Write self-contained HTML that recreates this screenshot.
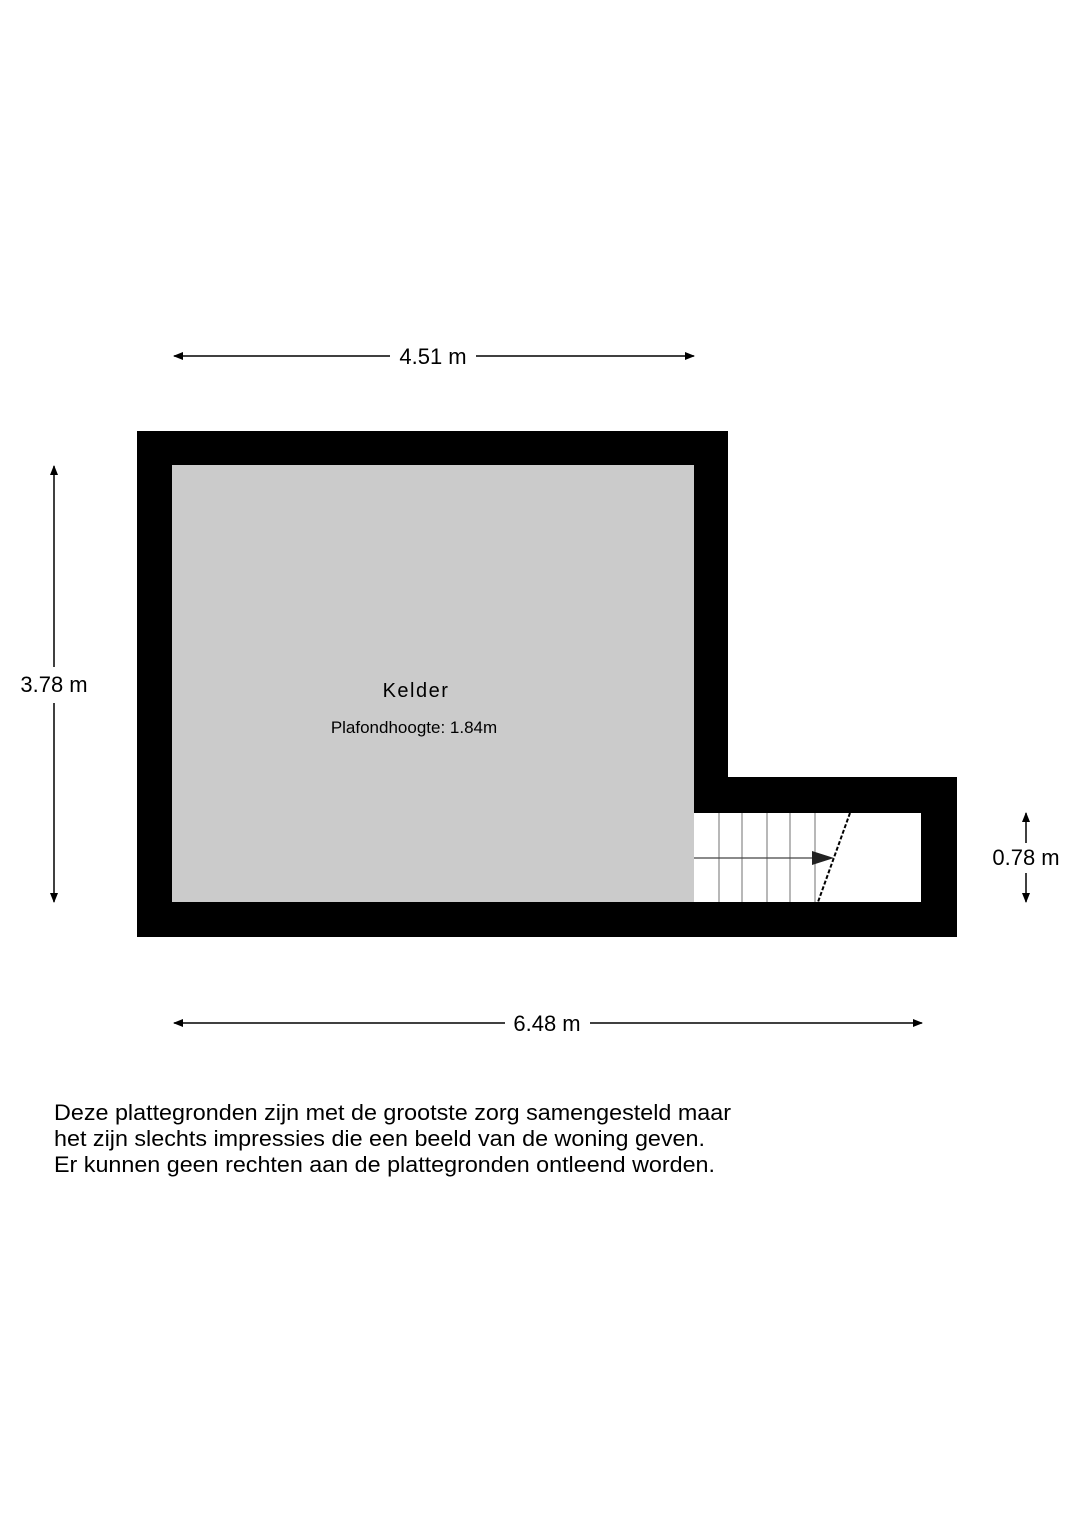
<!DOCTYPE html>
<html><head><style>body{margin:0;background:#fff}</style></head><body>
<svg width="1080" height="1526" xmlns="http://www.w3.org/2000/svg" font-family="Liberation Sans, sans-serif">
<defs><marker id="a" markerWidth="10" markerHeight="8" refX="9" refY="4" orient="auto-start-reverse" markerUnits="userSpaceOnUse"><path d="M0,0 L10,4 L0,8 Z" fill="#000"/></marker></defs>
<path d="M137,431 H728 V777 H957 V937 H137 Z" fill="#000"/>
<rect x="172" y="465" width="522" height="437" fill="#cbcbcb"/>
<rect x="694" y="813" width="227" height="89" fill="#fff"/>
<g stroke="#888" stroke-width="1.2">
<line x1="719" y1="813" x2="719" y2="902"/><line x1="742" y1="813" x2="742" y2="902"/><line x1="767" y1="813" x2="767" y2="902"/><line x1="790" y1="813" x2="790" y2="902"/><line x1="815" y1="813" x2="815" y2="902"/>
</g>
<line x1="694" y1="858" x2="820" y2="858" stroke="#444" stroke-width="1.3"/>
<path d="M812,851 L834,858 L812,865 Z" fill="#222"/>
<line x1="850" y1="813" x2="818" y2="902" stroke="#000" stroke-width="2" stroke-dasharray="4,2"/>
<g stroke="#000" stroke-width="1.5" fill="none">
<line x1="174" y1="356" x2="390" y2="356" marker-start="url(#a)"/><line x1="476" y1="356" x2="694" y2="356" marker-end="url(#a)"/>
<line x1="174" y1="1023" x2="505" y2="1023" marker-start="url(#a)"/><line x1="590" y1="1023" x2="922" y2="1023" marker-end="url(#a)"/>
<line x1="54" y1="466" x2="54" y2="667" marker-start="url(#a)"/><line x1="54" y1="703" x2="54" y2="902" marker-end="url(#a)"/>
<line x1="1026" y1="813" x2="1026" y2="843" marker-start="url(#a)"/><line x1="1026" y1="873" x2="1026" y2="902" marker-end="url(#a)"/>
</g>
<g font-size="22" fill="#000" text-anchor="middle">
<text x="433" y="364">4.51 m</text>
<text x="547" y="1031">6.48 m</text>
<text x="54" y="692">3.78 m</text>
<text x="1026" y="865">0.78 m</text>
</g>
<text x="416" y="697" font-size="20" text-anchor="middle" letter-spacing="1.5">Kelder</text>
<text x="414" y="733" font-size="17" text-anchor="middle">Plafondhoogte: 1.84m</text>
<g font-size="22" fill="#000">
<text x="54" y="1120" textLength="677" lengthAdjust="spacingAndGlyphs">Deze plattegronden zijn met de grootste zorg samengesteld maar</text>
<text x="54" y="1146" textLength="651" lengthAdjust="spacingAndGlyphs">het zijn slechts impressies die een beeld van de woning geven.</text>
<text x="54" y="1172" textLength="661" lengthAdjust="spacingAndGlyphs">Er kunnen geen rechten aan de plattegronden ontleend worden.</text>
</g>
</svg>
</body></html>
